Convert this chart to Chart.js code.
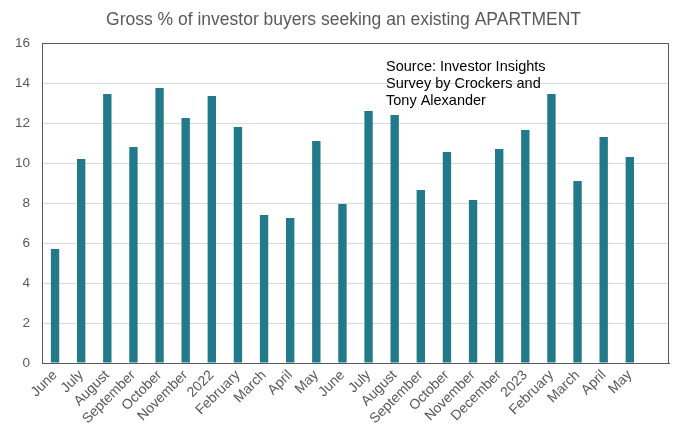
<!DOCTYPE html>
<html>
<head>
<meta charset="utf-8">
<script src="https://cdn.jsdelivr.net/npm/chart.js@4.4.1/dist/chart.umd.min.js"></script>
<style>
  html, body { margin: 0; padding: 0; background: #fff; }
  #wrap { width: 677px; height: 432px; }
</style>
</head>
<body>
<div id="wrap"><canvas id="chart" width="677" height="432"></canvas></div>
<script>
const months = ['June', 'July', 'August', 'September', 'October', 'November', '2022', 'February',
    'March', 'April', 'May', 'June', 'July', 'August', 'September', 'October', 'November',
    'December', '2023', 'February', 'March', 'April', 'May', ''];
const apartmentPct = [5.7, 10.2, 13.45, 10.8, 13.75, 12.25, 13.35, 11.8, 7.4, 7.25, 11.1, 7.95,
    12.6, 12.4, 8.65, 10.55, 8.15, 10.7, 11.65, 13.45, 9.1, 11.3, 10.3, null];
const yTicks = [0, 2, 4, 6, 8, 10, 12, 14, 16];

const chartTitle = 'Gross % of investor buyers seeking an existing APARTMENT';
const sourceNote = ['Source: Investor Insights', 'Survey by Crockers and', 'Tony Alexander'];

const grey = '#595959';
const font = 'Arial, "Liberation Sans", sans-serif';

// title, frame round the plot, and the source note
const framePlugin = {
    id: 'frame',
    afterDraw(chart) {
        const { ctx, chartArea: a } = chart;
        ctx.save();
        ctx.fillStyle = grey;
        ctx.font = '17.5px ' + font;
        ctx.textAlign = 'center';
        ctx.textBaseline = 'middle';
        ctx.fillText(chartTitle, 343.5, 20);

        ctx.strokeStyle = grey;
        ctx.lineWidth = 1;
        ctx.beginPath();
        ctx.moveTo(a.left, a.top + 0.5);
        ctx.lineTo(a.right - 0.5, a.top + 0.5);
        ctx.lineTo(a.right - 0.5, a.bottom);
        ctx.stroke();

        ctx.fillStyle = '#000';
        ctx.font = '14.5px ' + font;
        ctx.textAlign = 'left';
        sourceNote.forEach((line, i) => {
            ctx.fillText(line, a.left + 344, a.top + 24 + i * 17);
        });
        ctx.restore();
    }
};

new Chart(document.getElementById('chart'), {
    type: 'bar',
    data: {
        labels: months,
        datasets: [{
            data: apartmentPct,
            backgroundColor: '#22798a',
            borderWidth: 0,
            categoryPercentage: 1,
            barPercentage: 0.32
        }]
    },
    options: {
        responsive: false,
        animation: false,
        layout: { padding: { left: 0, right: 8, top: 43, bottom: 0 } },
        plugins: {
            legend: { display: false },
            tooltip: { enabled: false },
            title: { display: false }
        },
        scales: {
            x: {
                grid: { display: false, drawTicks: false },
                border: { display: true, color: grey, width: 1 },
                ticks: {
                    color: grey,
                    font: { family: font, size: 14 },
                    maxRotation: 45,
                    minRotation: 45,
                    autoSkip: false,
                    padding: 4
                },
                afterFit(scale) { scale.height = 69; }
            },
            y: {
                min: 0,
                max: 16,
                afterBuildTicks(scale) { scale.ticks = yTicks.map(v => ({ value: v })); },
                grid: { color: '#d9d9d9', drawTicks: false },
                border: { display: true, color: grey, width: 1 },
                ticks: {
                    color: grey,
                    font: { family: font, size: 13.5 },
                    padding: 12
                },
                afterFit(scale) { scale.width = 42; }
            }
        }
    },
    plugins: [framePlugin]
});
</script>
</body>
</html>
